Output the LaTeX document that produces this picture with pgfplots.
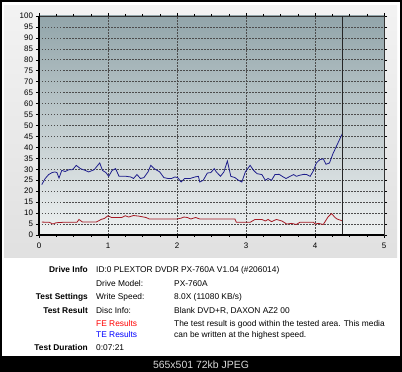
\documentclass[border=0pt]{standalone}
\usepackage{pgfplots}
\pgfplotsset{compat=1.18}
\usepackage{fontspec}
\setmainfont{Liberation Sans}
\definecolor{plotTop}{RGB}{146,165,170}
\definecolor{plotMid}{RGB}{198,209,211}
\definecolor{plotBot}{RGB}{238,241,241}
\definecolor{teblue}{RGB}{30,30,140}
\definecolor{fered}{RGB}{165,25,35}
\begin{document}
\begin{tikzpicture}[x=1bp,y=1bp]
\useasboundingbox (0,0) rectangle (402,372);
\fill[black] (0,0) rectangle (402,372);
\fill[white] (2,16) rectangle (400,370);
\shade[top color=gray!10, bottom color=gray!24] (4,114) rectangle (397,366);
\begin{axis}[
  at={(39bp,137bp)}, anchor=origin,
  scale only axis, width=345bp, height=219bp,
  xmin=0, xmax=5, ymin=0, ymax=100,
  xtick={0,1,2,3,4,5}, ytick={0,5,...,100},
  minor x tick num=3,
  tick align=outside,
  major tick length=3bp, minor tick length=2bp,
  every tick/.style={black, line width=0.5pt},
  grid=major,
  major grid style={black!70, dash pattern=on 1.5bp off 1.5bp, line width=0.6pt},
  axis line style={black!80, line width=0.8pt},
  axis background/.style={shade, top color=plotTop, middle color=plotMid, bottom color=plotBot},
  tick label style={font=\fontsize{8}{9}\selectfont},
  /pgf/number format/assume math mode=true,
  yticklabel style={xshift=0.5bp},
  xticklabel style={yshift=-1bp},
  clip=false,
]
\addplot[teblue, line width=0.8pt] coordinates {
(0.04,23) (0.09,25.8) (0.14,27.6) (0.19,28.5) (0.23,28.8) (0.26,28.5) (0.29,26)
(0.33,29.5) (0.38,29) (0.43,29.8) (0.48,29.8) (0.50,30.3) (0.54,31.8) (0.60,30.3)
(0.67,29.5) (0.72,28.8) (0.80,29.8) (0.83,31) (0.88,32.9) (0.92,29.5) (0.97,28.5)
(1.01,26.8) (1.06,29.5) (1.11,30.3) (1.16,26.8) (1.26,26.8) (1.33,26.5) (1.37,25.8)
(1.42,27.6) (1.47,25.8) (1.52,26.2) (1.58,28.8) (1.62,31.8) (1.67,30.3) (1.75,28.8)
(1.81,26.2) (1.87,25.8) (1.92,25.8) (1.97,26.5) (2.01,26.2) (2.06,24.2) (2.11,25.8)
(2.19,25.8) (2.26,26.5) (2.31,26.8) (2.33,24.2) (2.38,25) (2.44,28.3) (2.49,28.5)
(2.54,30.3) (2.57,28.8) (2.63,26.8) (2.68,28.8) (2.73,33.8) (2.78,26.8) (2.84,26.2)
(2.89,25) (2.94,24.2) (2.99,28.8) (3.06,31.8) (3.11,29.5) (3.16,28) (3.23,27.6)
(3.28,25) (3.32,25.8) (3.37,25) (3.42,27.6) (3.48,27.7) (3.54,26.5) (3.58,25.8)
(3.64,26.8) (3.69,27.6) (3.73,26.8) (3.78,27.3) (3.84,27.7) (3.88,27.6) (3.93,26.8)
(3.98,29.5) (4.02,32.9) (4.07,34.4) (4.12,34.8) (4.16,32.3) (4.21,32.9) (4.26,37.1)
(4.30,39.8) (4.35,43.2) (4.40,46.5)
};
\addplot[fered, line width=0.8pt] coordinates {
(0.04,5.9) (0.15,5.8) (0.20,5.0) (0.25,5.6) (0.35,5.8) (0.55,5.8) (0.58,7.1)
(0.63,5.9) (0.83,5.9) (0.90,7.1) (0.95,7.6) (1.00,8.8) (1.05,8.0) (1.20,8.0)
(1.25,8.8) (1.30,8.2) (1.37,8.9) (1.45,8.6) (1.55,8.0) (1.60,7.3) (1.80,7.3)
(2.00,7.3) (2.06,7.7) (2.10,8.2) (2.15,8.0) (2.20,7.3) (2.27,8.0) (2.33,7.3)
(2.84,7.3) (2.86,5.8) (3.06,5.8) (3.13,7.1) (3.23,7.1) (3.28,6.4) (3.32,7.1)
(3.37,6.1) (3.44,7.1) (3.52,6.4) (3.59,5.0) (3.66,5.3) (3.73,4.8) (3.78,5.8)
(3.98,5.8) (4.00,5.0) (4.05,5.3) (4.12,4.8) (4.19,8.3) (4.24,9.8) (4.29,8.0)
(4.32,7.3) (4.40,6.4)
};
\addplot[black!85, line width=0.8pt] coordinates {(4.40,0) (4.40,100)};
\draw[black, line width=1.4pt] (rel axis cs:0,1) -- (rel axis cs:0,0) -- (rel axis cs:1,0);
\end{axis}
\begin{scope}[every node/.style={inner sep=0pt, font=\fontsize{8.4}{10}\selectfont}]
\node[anchor=base east, font=\fontsize{8.4}{10}\selectfont\bfseries] at (88,99.5) {Drive Info};
\node[anchor=base west] at (96,99.5) {ID:0 PLEXTOR DVDR PX-760A V1.04 (\#206014)};
\node[anchor=base west] at (96,86) {Drive Model:};
\node[anchor=base west] at (174,86) {PX-760A};
\node[anchor=base east, font=\fontsize{8.4}{10}\selectfont\bfseries] at (88,72.5) {Test Settings};
\node[anchor=base west] at (96,72.5) {Write Speed:};
\node[anchor=base west] at (174,72.5) {8.0X (11080 KB/s)};
\node[anchor=base east, font=\fontsize{8.4}{10}\selectfont\bfseries] at (88,58.5) {Test Result};
\node[anchor=base west] at (96,58.5) {Disc Info:};
\node[anchor=base west] at (174,58.5) {Blank DVD+R, DAXON AZ2 00};
\node[anchor=base west, text=red] at (96,46) {FE Results};
\node[anchor=base west] at (174,46) {The test result is good within the tested area. This media};
\node[anchor=base west, text=blue] at (96,35) {TE Results};
\node[anchor=base west] at (174,35) {can be written at the highest speed.};
\node[anchor=base east, font=\fontsize{8.4}{10}\selectfont\bfseries] at (88,21.5) {Test Duration};
\node[anchor=base west] at (96,21.5) {0:07:21};
\node[anchor=base, text=gray!30, font=\fontsize{10.5}{12}\selectfont] at (201,4) {565x501 72kb JPEG};
\end{scope}
\end{tikzpicture}
\end{document}
